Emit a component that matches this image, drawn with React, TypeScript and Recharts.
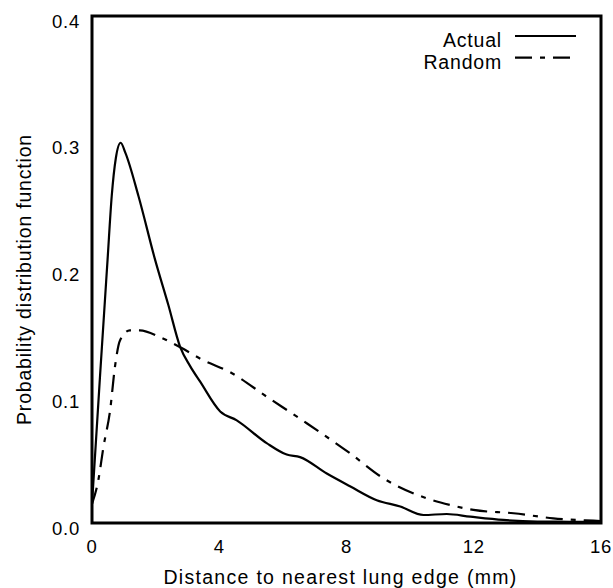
import React from "react";
import { LineChart, Line, XAxis, YAxis, ReferenceArea } from "recharts";

const actualX = [0, 0.25, 0.49, 0.62, 0.75, 0.9, 1.05, 1.46, 1.98, 2.4, 2.77, 3.08, 3.4, 4.03, 4.55, 5.49, 6.12, 6.54, 7.38, 8.11, 8.95, 9.69, 10.42, 11.15, 11.89, 12.93, 14, 15, 16];
const actualY = [0.015, 0.115, 0.208, 0.258, 0.288, 0.3, 0.292, 0.258, 0.208, 0.172, 0.139, 0.124, 0.1115, 0.088, 0.081, 0.063, 0.054, 0.052, 0.039, 0.029, 0.018, 0.013, 0.0063, 0.0071, 0.005, 0.0024, 0.0012, 0.001, 0.001];

const randomX = [0, 0.2, 0.36, 0.57, 0.72, 0.88, 1.19, 1.5, 2.19, 2.82, 3.45, 4.34, 5.49, 6.75, 8.11, 9.16, 10.52, 11.26, 11.99, 13.25, 14.5, 15.76, 16];
const randomY = [0.015, 0.034, 0.06, 0.089, 0.123, 0.144, 0.152, 0.152, 0.146, 0.138, 0.129, 0.119, 0.0997, 0.0787, 0.055, 0.0353, 0.0195, 0.0142, 0.0103, 0.0077, 0.0037, 0.0018, 0.0015];

const xTicks = [0, 4, 8, 12, 16];
const yTicks = [0, 0.1, 0.2, 0.3, 0.4];
const seriesNames = ["Actual", "Random"];

const FONT = "'Liberation Sans', Arial, Helvetica, sans-serif";
const DASH = "17 8 5 8";

const actualData = actualX.map((x, i) => ({ x, y: actualY[i] }));
const randomData = randomX.map((x, i) => ({ x, y: randomY[i] }));

const XTick = (props: any) => {
  const { x, y, payload } = props;
  return (
    <text x={x} y={y + 29.5} textAnchor="middle" fontFamily={FONT} fontSize={18.5} letterSpacing={0.8} fill="#000">
      {payload.value}
    </text>
  );
};

const YTick = (props: any) => {
  const { x, y, payload } = props;
  return (
    <text x={x - 12} y={y + 11.5} textAnchor="end" fontFamily={FONT} fontSize={18.5} letterSpacing={0.8} fill="#000">
      {Number(payload.value).toFixed(1)}
    </text>
  );
};

const LegendOverlay = () => (
  <svg width={613} height={90} style={{ position: "absolute", left: 0, top: 0, pointerEvents: "none" }}>
    <text x={502} y={47} textAnchor="end" fontFamily={FONT} fontSize={19.5} letterSpacing={0.8} fill="#000">
      {seriesNames[0]}
    </text>
    <line x1={515} x2={576} y1={36} y2={36} stroke="#000" strokeWidth={2.2} />
    <text x={502} y={69} textAnchor="end" fontFamily={FONT} fontSize={19.5} letterSpacing={0.8} fill="#000">
      {seriesNames[1]}
    </text>
    <line x1={515} x2={576} y1={57.7} y2={57.7} stroke="#000" strokeWidth={2.2} strokeDasharray={DASH} />
  </svg>
);

export default function App() {
  return (
    <div style={{ position: "relative", width: 613, height: 588 }}>
      <style>{"html,body{margin:0;padding:0;}"}</style>
      <LineChart width={613} height={588} margin={{ top: 16, right: 12, left: 32, bottom: 15 }}>
        <XAxis
          dataKey="x"
          type="number"
          domain={[0, 16]}
          ticks={xTicks}
          allowDataOverflow
          height={50}
          tickSize={0}
          tickMargin={0}
          tickLine={false}
          axisLine={false}
          tick={<XTick />}
          label={{
            content: (p: any) => {
              const vb = p.viewBox;
              return (
                <text x={vb.x + vb.width / 2 - 6} y={vb.y + 61} textAnchor="middle" fontFamily={FONT} fontSize={19.5} letterSpacing={1.3} fill="#000">
                  Distance to nearest lung edge (mm)
                </text>
              );
            },
          }}
        />
        <YAxis
          type="number"
          domain={[0, 0.4]}
          ticks={yTicks}
          allowDataOverflow
          width={60}
          tickSize={0}
          tickMargin={0}
          tickLine={false}
          axisLine={false}
          tick={<YTick />}
          label={{
            content: (p: any) => {
              const vb = p.viewBox;
              const cx = vb.x - 8;
              const cy = vb.y + vb.height / 2 + 10;
              return (
                <text
                  x={cx}
                  y={cy}
                  transform={`rotate(-90 ${cx} ${cy})`}
                  textAnchor="middle"
                  dominantBaseline="central"
                  fontFamily={FONT}
                  fontSize={19.5}
                  letterSpacing={0.8}
                  fill="#000"
                >
                  Probability distribution function
                </text>
              );
            },
          }}
        />
        <Line
          data={randomData}
          dataKey="y"
          name={seriesNames[1]}
          type="monotone"
          stroke="#000"
          strokeWidth={2.2}
          strokeDasharray={DASH}
          dot={false}
          activeDot={false}
          isAnimationActive={false}
        />
        <Line
          data={actualData}
          dataKey="y"
          name={seriesNames[0]}
          type="monotone"
          stroke="#000"
          strokeWidth={2.2}
          dot={false}
          activeDot={false}
          isAnimationActive={false}
        />
        <ReferenceArea x1={0} x2={16} y1={0} y2={0.4} fill="none" stroke="#000" strokeWidth={3} ifOverflow="visible" />
      </LineChart>
      <LegendOverlay />
    </div>
  );
}
